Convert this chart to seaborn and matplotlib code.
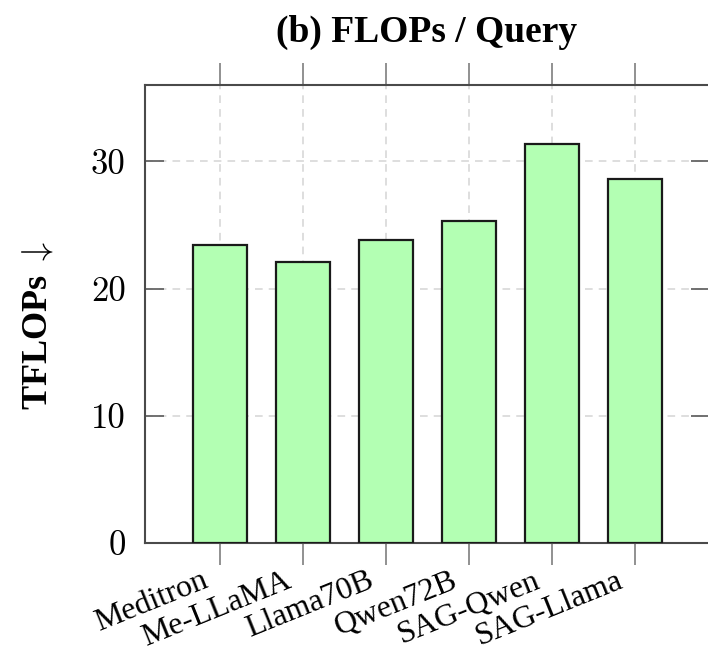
import numpy as np
import pandas as pd
import matplotlib
matplotlib.use("Agg")
import matplotlib.pyplot as plt
import matplotlib.transforms as mtransforms
import seaborn as sns

# ── data ────────────────────────────────────────────────────────────
models = ["Meditron", "Me-LLaMA", "Llama70B", "Qwen72B", "SAG-Qwen", "SAG-Llama"]
tflops = [23.4, 22.1, 23.8, 25.3, 31.4, 28.6]
y_ticks = [0, 10, 20, 30]

df = pd.DataFrame({"model": models, "tflops": tflops})

sns.set_theme(style="white")
plt.rcParams["font.family"] = ["Liberation Serif", "DejaVu Serif"]
plt.rcParams["mathtext.fontset"] = "cm"
plt.rcParams["text.color"] = "black"
plt.rcParams["axes.labelcolor"] = "black"
plt.rcParams["xtick.color"] = "black"
plt.rcParams["ytick.color"] = "black"

fig = plt.figure(figsize=(7.08, 6.52), dpi=100)
ax = fig.add_axes([145 / 708, 1 - 543 / 652, 565 / 708, 458 / 652])

sns.barplot(data=df, x="model", y="tflops", color="#b3ffb3", saturation=1,
            edgecolor="#1a1a1a", linewidth=1.6, width=0.65, ax=ax, zorder=3)

ax.set_xlim(-0.9, 5.9)
ax.set_ylim(0, 36)
ax.set_yticks(y_ticks)

# dashed grid behind the bars
ax.grid(True, axis="both", color="#d4d4d4", linestyle=(0, (5, 4)), linewidth=1.1, zorder=0)
ax.set_axisbelow(True)

for side in ["left", "right", "top", "bottom"]:
    ax.spines[side].set_color("#4a4a4a")
    ax.spines[side].set_linewidth(1.5)
    ax.spines[side].set_visible(True)

ax.tick_params(axis="y", which="major", direction="in", length=14, width=1.3,
               color="#666666", left=True, right=True, labelsize=25, pad=14,
               labelfontfamily="cmr10")
ax.tick_params(axis="x", which="major", direction="out", length=16, width=1.3,
               color="#888888", bottom=True, top=True, labelsize=23, pad=10.5)

ax.set_xticks(range(len(models)))
ax.set_xticklabels(models, rotation=22, ha="right", va="center", rotation_mode="anchor")
shift = mtransforms.ScaledTranslation(-13 / 100, 0, fig.dpi_scale_trans)
for lbl in ax.get_xticklabels():
    lbl.set_transform(lbl.get_transform() + shift)

ax.set_xlabel("")
ax.set_ylabel(r"TFLOPs $\downarrow$", fontsize=26, fontweight="bold")
ax.yaxis.set_label_coords(-0.16, 0.476)

fig.text(427 / 708, 1 - 32 / 652, "(b) FLOPs / Query", ha="center", va="center",
         fontsize=27, fontweight="bold")

fig.savefig("out.png", dpi=100)
